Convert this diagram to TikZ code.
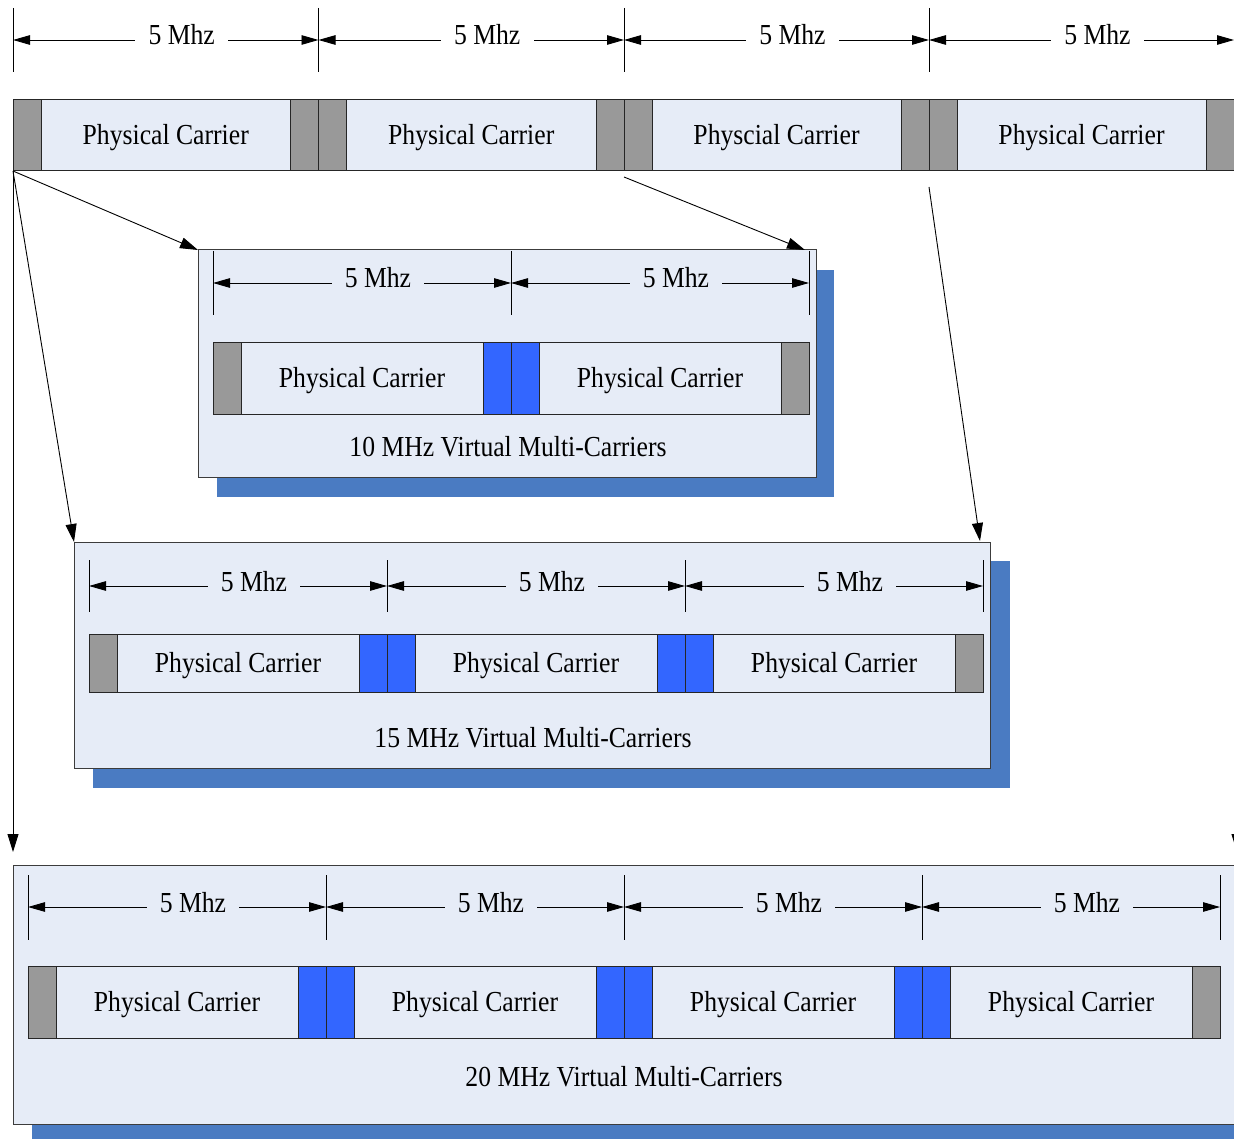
\documentclass[tikz,border=0pt]{standalone}
\usepackage{fontspec}
\setmainfont{Liberation Serif}
\usetikzlibrary{arrows.meta}
\definecolor{boxfill}{RGB}{230,236,247}
\definecolor{guard}{RGB}{153,153,153}
\definecolor{vblue}{RGB}{51,102,255}
\definecolor{shadowc}{RGB}{74,123,194}
\definecolor{edge}{RGB}{60,60,60}

\newcommand\pcseg[8]{% name, x, y, w, h, left colour, right colour, text
  \node[cell, fill=boxfill, minimum width=#4, minimum height=#5, anchor=north west] (#1) at (#2,#3) {};
  \node[cell, fill=#6, minimum width=28, minimum height=#5, anchor=north west] (#1-l) at (#1.north west) {};
  \node[cell, fill=#7, minimum width=28, minimum height=#5, anchor=north east] (#1-r) at (#1.north east) {};
  \node[lbl, anchor=base, yshift=-9pt] (#1-t) at (#1.center) {#8};
}
\newcommand\dimrow[5]{% prefix, list of i/x, tick top, tick bottom, arrow y
  \foreach \i/\x in {#2} {
    \coordinate (#1-a\i) at (\x,#3);
    \coordinate (#1-b\i) at (\x,#4);
    \coordinate (#1-m\i) at (\x,#5);
    \draw[thin line] (#1-a\i) -- (#1-b\i);
  }
}
\newcommand\dimarrow[4]{% prefix, i, j, label fill
  \draw[dim] (#1-m#2) -- (#1-m#3) node[midway, lbl, anchor=base, xshift=18pt, yshift=-5pt, fill=#4, inner xsep=15pt, inner ysep=3pt] {5 Mhz};
}

\begin{document}
\begin{tikzpicture}[x=1pt, y=-1pt, line width=1pt,
  cell/.style={draw=black!85, inner sep=0pt, outer sep=0pt},
  thin line/.style={line width=0.9pt},
  lbl/.style={font=\fontsize{29}{33}\selectfont, xscale=0.885, inner sep=0pt, text=black},
  tip/.style={-{Triangle[length=18pt,width=11pt]}, line width=0.9pt},
  dim/.style={{Triangle[length=17pt,width=9.5pt]}-{Triangle[length=17pt,width=9.5pt]}, line width=0.9pt},
  vbox/.style={draw=edge, fill=boxfill, inner sep=0pt, outer sep=0pt, anchor=north west, line width=1pt},
  shadowbox/.style={fill=shadowc, inner sep=0pt, outer sep=0pt, anchor=north west}]
\useasboundingbox (0,0) rectangle (1234,1139);
\fill[white] (0,0) rectangle (1234,1139);

% ---------- top physical carriers ----------
\dimrow{td}{0/13,1/318.5,2/624,3/929,4/1234}{8}{72}{40}
\dimarrow{td}{0}{1}{white}
\dimarrow{td}{1}{2}{white}
\dimarrow{td}{2}{3}{white}
\dimarrow{td}{3}{4}{white}
\pcseg{p1}{13}{100}{305.5}{71}{guard}{guard}{Physical Carrier}
\pcseg{p2}{318.5}{100}{305.5}{71}{guard}{guard}{Physical Carrier}
\pcseg{p3}{624}{100}{305}{71}{guard}{guard}{Physcial Carrier}
\pcseg{p4}{929}{100}{305}{71}{guard}{guard}{Physical Carrier}

% ---------- 10 MHz ----------
\node[shadowbox, minimum width=617, minimum height=227] (s10) at (217,270) {};
\node[vbox, minimum width=618, minimum height=227] (b10) at (198,250) {};
\dimrow{d10}{0/213,1/511,2/809}{251}{315}{283}
\dimarrow{d10}{0}{1}{boxfill}
\dimarrow{d10}{1}{2}{boxfill}
\pcseg{q1}{213}{343}{298}{71}{guard}{vblue}{Physical Carrier}
\pcseg{q2}{511}{343}{298}{71}{vblue}{guard}{Physical Carrier}
\node[lbl, anchor=base] (l10) at (508,456) {10 MHz Virtual Multi-Carriers};

% ---------- 15 MHz ----------
\node[shadowbox, minimum width=917, minimum height=227] (s15) at (93,561) {};
\node[vbox, minimum width=916, minimum height=226] (b15) at (74,542) {};
\dimrow{d15}{0/89,1/387,2/685,3/983}{560}{612}{586}
\dimarrow{d15}{0}{1}{boxfill}
\dimarrow{d15}{1}{2}{boxfill}
\dimarrow{d15}{2}{3}{boxfill}
\pcseg{r1}{89}{634}{298}{58}{guard}{vblue}{Physical Carrier}
\pcseg{r2}{387}{634}{298}{58}{vblue}{vblue}{Physical Carrier}
\pcseg{r3}{685}{634}{298}{58}{vblue}{guard}{Physical Carrier}
\node[lbl, anchor=base] (l15) at (533,747) {15 MHz Virtual Multi-Carriers};

% ---------- 20 MHz ----------
\node[shadowbox, minimum width=1240, minimum height=260] (s20) at (32,884) {};
\node[vbox, minimum width=1240, minimum height=259] (b20) at (13,865) {};
\dimrow{d20}{0/28,1/326,2/624,3/922,4/1220}{875}{940}{907}
\dimarrow{d20}{0}{1}{boxfill}
\dimarrow{d20}{1}{2}{boxfill}
\dimarrow{d20}{2}{3}{boxfill}
\dimarrow{d20}{3}{4}{boxfill}
\pcseg{u1}{28}{966}{298}{72}{guard}{vblue}{Physical Carrier}
\pcseg{u2}{326}{966}{298}{72}{vblue}{vblue}{Physical Carrier}
\pcseg{u3}{624}{966}{298}{72}{vblue}{vblue}{Physical Carrier}
\pcseg{u4}{922}{966}{298}{72}{vblue}{guard}{Physical Carrier}
\node[lbl, anchor=base] (l20) at (624,1086) {20 MHz Virtual Multi-Carriers};

% ---------- connectors ----------
\coordinate (c3) at (624,177);
\coordinate (c4) at (929,187);
\coordinate (cr) at (1237,172);
\coordinate (e10r) at (805,250);
\coordinate (e15r) at (980,541);
\coordinate (e20l) at (13,852);
\coordinate (e20r) at (1237,852);
\draw[tip] (p1.south west) -- (b10.north west);
\draw[tip] (c3) -- (e10r);
\draw[tip] (p1.south west) -- (b15.north west);
\draw[tip] (c4) -- (e15r);
\draw[tip] (p1.south west) -- (e20l);
\draw[tip] (cr) -- (e20r);
\end{tikzpicture}
\end{document}
